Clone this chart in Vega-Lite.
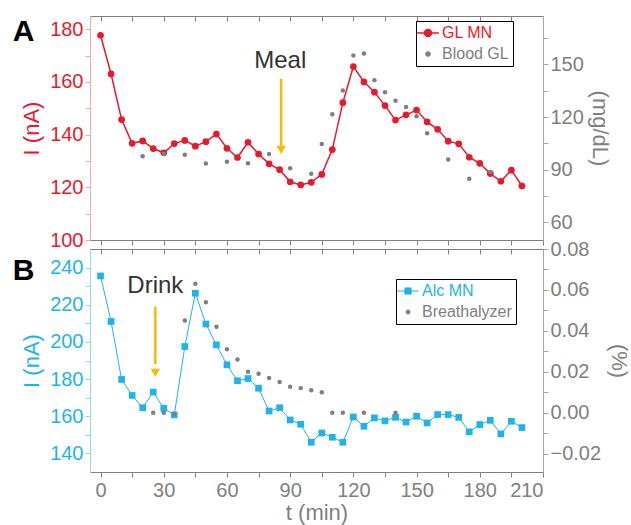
{
  "$schema": "https://vega.github.io/schema/vega-lite/v6.json",
  "background": "white",
  "padding": {"left": 12, "right": 5, "top": 15, "bottom": 5},
  "spacing": 9,
  "bounds": "flush",
  "config": {
    "font": "Liberation Sans",
    "view": {"stroke": null},
    "axis": {"grid": false, "labelFont": "Liberation Sans", "titleFont": "Liberation Sans", "titleFontWeight": "normal", "labelFontSize": 20, "titleFontSize": 22, "tickSize": 5, "domainWidth": 1, "tickWidth": 1},
    "legend": {"labelFont": "Liberation Sans"}
  },
  "resolve": {"scale": {"color": "independent"}, "legend": {"color": "independent"}},
  "datasets": {
    "glmn": [
      {"t": 0, "y": 177.7}, {"t": 5, "y": 163}, {"t": 10, "y": 145.7}, {"t": 15, "y": 136.7}, {"t": 20, "y": 137.6},
      {"t": 25, "y": 134.7}, {"t": 30, "y": 133.1}, {"t": 35, "y": 136.6}, {"t": 40, "y": 137.8}, {"t": 45, "y": 135.6},
      {"t": 50, "y": 137.3}, {"t": 55, "y": 140.2}, {"t": 60, "y": 134.8}, {"t": 65, "y": 131.3}, {"t": 70, "y": 137.1},
      {"t": 75, "y": 132.6}, {"t": 80, "y": 128.9}, {"t": 85, "y": 126.7}, {"t": 90, "y": 122.1}, {"t": 95, "y": 120.9},
      {"t": 100, "y": 121.9}, {"t": 105, "y": 124.9}, {"t": 110, "y": 134.3}, {"t": 115, "y": 152.1}, {"t": 120, "y": 165.8},
      {"t": 125, "y": 160}, {"t": 130, "y": 156.1}, {"t": 135, "y": 151}, {"t": 140, "y": 145.5}, {"t": 145, "y": 147.5},
      {"t": 150, "y": 149.3}, {"t": 155, "y": 144.8}, {"t": 160, "y": 142}, {"t": 165, "y": 137.5}, {"t": 170, "y": 136.5},
      {"t": 175, "y": 131.4}, {"t": 180, "y": 129.1}, {"t": 185, "y": 125.2}, {"t": 190, "y": 122.3}, {"t": 195, "y": 126.5},
      {"t": 200, "y": 120.5}
    ],
    "bloodgl": [
      {"t": 20, "y": 97.7}, {"t": 30, "y": 98.9}, {"t": 40, "y": 98.5}, {"t": 50, "y": 93.5}, {"t": 60, "y": 94.6},
      {"t": 70, "y": 93.7}, {"t": 80, "y": 98.9}, {"t": 90, "y": 90.8}, {"t": 100, "y": 87.7}, {"t": 105, "y": 104.6},
      {"t": 110, "y": 121.6}, {"t": 115, "y": 135.1}, {"t": 120, "y": 155}, {"t": 125, "y": 156.1}, {"t": 130, "y": 141},
      {"t": 135, "y": 134.1}, {"t": 140, "y": 129.3}, {"t": 145, "y": 125.7}, {"t": 150, "y": 120.5}, {"t": 155, "y": 110.7},
      {"t": 165, "y": 95.8}, {"t": 175, "y": 84.9}, {"t": 185, "y": 88.7}
    ],
    "alcmn": [
      {"t": 0, "y": 235.5}, {"t": 5, "y": 211}, {"t": 10, "y": 179.8}, {"t": 15, "y": 171.2}, {"t": 20, "y": 164.6},
      {"t": 25, "y": 173}, {"t": 30, "y": 164.3}, {"t": 35, "y": 160.7}, {"t": 40, "y": 197.5}, {"t": 45, "y": 226.2},
      {"t": 50, "y": 209.6}, {"t": 55, "y": 198.4}, {"t": 60, "y": 187.7}, {"t": 65, "y": 179.1}, {"t": 70, "y": 180.3},
      {"t": 75, "y": 175.1}, {"t": 80, "y": 162.8}, {"t": 85, "y": 164.6}, {"t": 90, "y": 158}, {"t": 95, "y": 155.7},
      {"t": 100, "y": 146}, {"t": 105, "y": 151}, {"t": 110, "y": 148.7}, {"t": 115, "y": 146}, {"t": 120, "y": 159.6},
      {"t": 125, "y": 154.6}, {"t": 130, "y": 159.1}, {"t": 135, "y": 157.5}, {"t": 140, "y": 159.4}, {"t": 145, "y": 156.9},
      {"t": 150, "y": 160}, {"t": 155, "y": 156.4}, {"t": 160, "y": 160.9}, {"t": 165, "y": 160.9}, {"t": 170, "y": 159.4},
      {"t": 175, "y": 151.6}, {"t": 180, "y": 155.5}, {"t": 185, "y": 157.8}, {"t": 190, "y": 150.5}, {"t": 195, "y": 157.3},
      {"t": 200, "y": 153.9}
    ],
    "breath": [
      {"t": 25, "y": 0.0}, {"t": 30, "y": 0.0}, {"t": 35, "y": -0.0005}, {"t": 40, "y": 0.045}, {"t": 45, "y": 0.063},
      {"t": 50, "y": 0.054}, {"t": 55, "y": 0.042}, {"t": 60, "y": 0.031}, {"t": 65, "y": 0.026}, {"t": 70, "y": 0.020},
      {"t": 75, "y": 0.019}, {"t": 80, "y": 0.017}, {"t": 85, "y": 0.015}, {"t": 90, "y": 0.0127}, {"t": 95, "y": 0.012},
      {"t": 100, "y": 0.011}, {"t": 105, "y": 0.010}, {"t": 110, "y": 0.0}, {"t": 115, "y": 0.0}, {"t": 125, "y": 0.0},
      {"t": 140, "y": 0.0}
    ]
  },
  "vconcat": [
    {
      "width": 453,
      "height": 224,
      "resolve": {"scale": {"x": "independent", "y": "independent"}},
      "layer": [
        {
          "encoding": {
            "x": {"field": "t", "type": "quantitative", "scale": {"domain": [-5, 210], "nice": false, "zero": false},
              "axis": {"orient": "bottom", "values": [0, 15, 30, 45, 60, 75, 90, 105, 120, 135, 150, 165, 180, 195, 210], "labels": false, "title": null, "domainColor": "#7f7f7f", "tickColor": "#7f7f7f"}},
            "y": {"field": "y", "type": "quantitative", "scale": {"domain": [100, 185], "nice": false, "zero": false},
              "axis": {"orient": "left", "title": "I (nA)", "values": [100, 110, 120, 130, 140, 150, 160, 170, 180], "labelExpr": "datum.value % 20 === 0 ? datum.label : ''", "labelColor": "#e8192c", "titleColor": "#e8192c", "domainColor": "#f4a6ad", "tickColor": "#f4a6ad", "labelPadding": 2, "titlePadding": 6}}
          },
          "layer": [
            {
              "data": {"name": "glmn"},
              "mark": {"type": "line", "strokeWidth": 1.5, "point": {"filled": true, "size": 45, "opacity": 1}},
              "encoding": {
                "color": {"datum": "GL MN", "type": "nominal",
                  "scale": {"domain": ["GL MN", "Blood GL"], "range": ["#e8192c", "#7f7f7f"]},
                  "legend": {"orient": "none", "legendX": 326, "legendY": 5, "title": null, "strokeColor": "#000000", "fillColor": "white", "padding": 4, "labelFontSize": 16, "symbolSize": 240, "rowPadding": 5, "labelOffset": 6,
                    "encode": {
                      "labels": {"update": {"fill": {"signal": "datum.value === 'GL MN' ? '#e8192c' : '#7f7f7f'"}}},
                      "symbols": {"update": {
                        "shape": {"signal": "datum.value === 'GL MN' ? 'M-1.4,0H-0.45M0.45,0H1.4M-0.45,0A0.45,0.45 0 1,0 0.45,0A0.45,0.45 0 1,0 -0.45,0' : 'circle'"},
                        "size": {"signal": "datum.value === 'GL MN' ? 240 : 16"},
                        "fill": {"signal": "datum.value === 'GL MN' ? '#e8192c' : '#7f7f7f'"},
                        "stroke": {"signal": "datum.value === 'GL MN' ? '#e8192c' : '#7f7f7f'"},
                        "strokeWidth": {"value": 1.5},
                        "opacity": {"value": 1}
                      }}
                    }}
                }
              }
            },
            {
              "data": {"values": [{"t": 85.7, "y": 161.2, "y2": 135.5}]},
              "mark": {"type": "rule", "color": "#fbb800", "strokeWidth": 2.5},
              "encoding": {"y2": {"field": "y2"}}
            },
            {
              "data": {"values": [{"t": 85.7, "y": 134.2}]},
              "mark": {"type": "point", "shape": "triangle-down", "filled": true, "color": "#fbb800", "size": 90, "opacity": 1}
            },
            {
              "data": {"values": [{"t": 85.3, "y": 168.1, "label": "Meal"}]},
              "mark": {"type": "text", "fontSize": 24, "color": "#333333", "baseline": "middle", "align": "center"},
              "encoding": {"text": {"field": "label"}}
            },
            {
              "data": {"values": [{"t": -36.5, "y": 179.1, "label": "A"}]},
              "mark": {"type": "text", "fontSize": 30, "fontWeight": "bold", "color": "#000000", "baseline": "middle", "align": "center"},
              "encoding": {"text": {"field": "label"}}
            }
          ]
        },
        {
          "data": {"name": "bloodgl"},
          "mark": {"type": "circle", "size": 20, "opacity": 1},
          "encoding": {
            "x": {"field": "t", "type": "quantitative", "scale": {"domain": [-5, 210], "nice": false, "zero": false},
              "axis": {"orient": "top", "values": [0, 15, 30, 45, 60, 75, 90, 105, 120, 135, 150, 165, 180, 195, 210], "labels": false, "title": null, "tickSize": -5, "domainColor": "#7f7f7f", "tickColor": "#7f7f7f"}},
            "y": {"field": "y", "type": "quantitative", "scale": {"domain": [50, 177.5], "nice": false, "zero": false},
              "axis": {"orient": "right", "title": "(mg/dL)", "values": [60, 75, 90, 105, 120, 135, 150, 165], "labelExpr": "datum.value % 30 === 0 ? datum.label : ''", "labelColor": "#7f7f7f", "titleColor": "#7f7f7f", "domainColor": "#a6a6a6", "tickColor": "#a6a6a6", "labelPadding": 2, "titlePadding": 4}},
            "color": {"datum": "Blood GL", "type": "nominal"}
          }
        }
      ]
    },
    {
      "width": 453,
      "height": 223,
      "resolve": {"scale": {"x": "independent", "y": "independent"}},
      "layer": [
        {
          "encoding": {
            "x": {"field": "t", "type": "quantitative", "scale": {"domain": [-5, 210], "nice": false, "zero": false},
              "axis": {"orient": "bottom", "values": [0, 15, 30, 45, 60, 75, 90, 105, 120, 135, 150, 165, 180, 195, 210], "labelExpr": "datum.value % 30 === 0 ? datum.label : ''", "title": "t (min)", "labelColor": "#7f7f7f", "titleColor": "#7f7f7f", "domainColor": "#7f7f7f", "tickColor": "#7f7f7f", "labelPadding": 3, "titlePadding": 2}},
            "y": {"field": "y", "type": "quantitative", "scale": {"domain": [130, 250], "nice": false, "zero": false},
              "axis": {"orient": "left", "title": "I (nA)", "values": [140, 150, 160, 170, 180, 190, 200, 210, 220, 230, 240], "labelExpr": "datum.value % 20 === 0 ? datum.label : ''", "labelColor": "#1eb4eb", "titleColor": "#1eb4eb", "domainColor": "#8fd6f3", "tickColor": "#8fd6f3", "labelPadding": 2, "titlePadding": 6}}
          },
          "layer": [
            {
              "data": {"name": "alcmn"},
              "mark": {"type": "line", "strokeWidth": 1, "point": {"filled": true, "shape": "square", "size": 45, "opacity": 1}},
              "encoding": {
                "color": {"datum": "Alc MN", "type": "nominal",
                  "scale": {"domain": ["Alc MN", "Breathalyzer"], "range": ["#1eb4eb", "#7f7f7f"]},
                  "legend": {"orient": "none", "legendX": 306, "legendY": 30, "title": null, "strokeColor": "#000000", "fillColor": "white", "padding": 4, "labelFontSize": 16, "symbolSize": 240, "rowPadding": 5, "labelOffset": 6,
                    "encode": {
                      "labels": {"update": {"fill": {"signal": "datum.value === 'Alc MN' ? '#1eb4eb' : '#7f7f7f'"}}},
                      "symbols": {"update": {
                        "shape": {"signal": "datum.value === 'Alc MN' ? 'M-1.4,0H-0.4M0.4,0H1.4M-0.4,-0.4H0.4V0.4H-0.4Z' : 'circle'"},
                        "size": {"signal": "datum.value === 'Alc MN' ? 240 : 16"},
                        "fill": {"signal": "datum.value === 'Alc MN' ? '#1eb4eb' : '#7f7f7f'"},
                        "stroke": {"signal": "datum.value === 'Alc MN' ? '#1eb4eb' : '#7f7f7f'"},
                        "strokeWidth": {"value": 1},
                        "strokeDash": {"value": []},
                        "opacity": {"value": 1}
                      }}
                    }}
                }
              }
            },
            {
              "data": {"values": [{"t": 26, "y": 219, "y2": 188}]},
              "mark": {"type": "rule", "color": "#fbb800", "strokeWidth": 2.5},
              "encoding": {"y2": {"field": "y2"}}
            },
            {
              "data": {"values": [{"t": 26, "y": 183.3}]},
              "mark": {"type": "point", "shape": "triangle-down", "filled": true, "color": "#fbb800", "size": 90, "opacity": 1}
            },
            {
              "data": {"values": [{"t": 26, "y": 230.1, "label": "Drink"}]},
              "mark": {"type": "text", "fontSize": 24, "color": "#333333", "baseline": "middle", "align": "center"},
              "encoding": {"text": {"field": "label"}}
            },
            {
              "data": {"values": [{"t": -36.5, "y": 238.2, "label": "B"}]},
              "mark": {"type": "text", "fontSize": 30, "fontWeight": "bold", "color": "#000000", "baseline": "middle", "align": "center"},
              "encoding": {"text": {"field": "label"}}
            }
          ]
        },
        {
          "data": {"name": "breath"},
          "mark": {"type": "circle", "size": 20, "opacity": 1},
          "encoding": {
            "x": {"field": "t", "type": "quantitative", "scale": {"domain": [-5, 210], "nice": false, "zero": false},
              "axis": {"orient": "top", "values": [0, 15, 30, 45, 60, 75, 90, 105, 120, 135, 150, 165, 180, 195, 210], "labels": false, "title": null, "tickSize": -5, "domainColor": "#7f7f7f", "tickColor": "#7f7f7f"}},
            "y": {"field": "y", "type": "quantitative", "scale": {"domain": [-0.029, 0.08], "nice": false, "zero": false},
              "axis": {"orient": "right", "title": "(%)", "values": [-0.02, -0.01, 0, 0.01, 0.02, 0.03, 0.04, 0.05, 0.06, 0.07, 0.08], "labelExpr": "round(datum.value * 100) % 2 === 0 ? format(datum.value, '.2f') : ''", "labelColor": "#7f7f7f", "titleColor": "#7f7f7f", "domainColor": "#a6a6a6", "tickColor": "#a6a6a6", "labelPadding": 2, "titlePadding": 6}},
            "color": {"datum": "Breathalyzer", "type": "nominal"}
          }
        }
      ]
    }
  ]
}
